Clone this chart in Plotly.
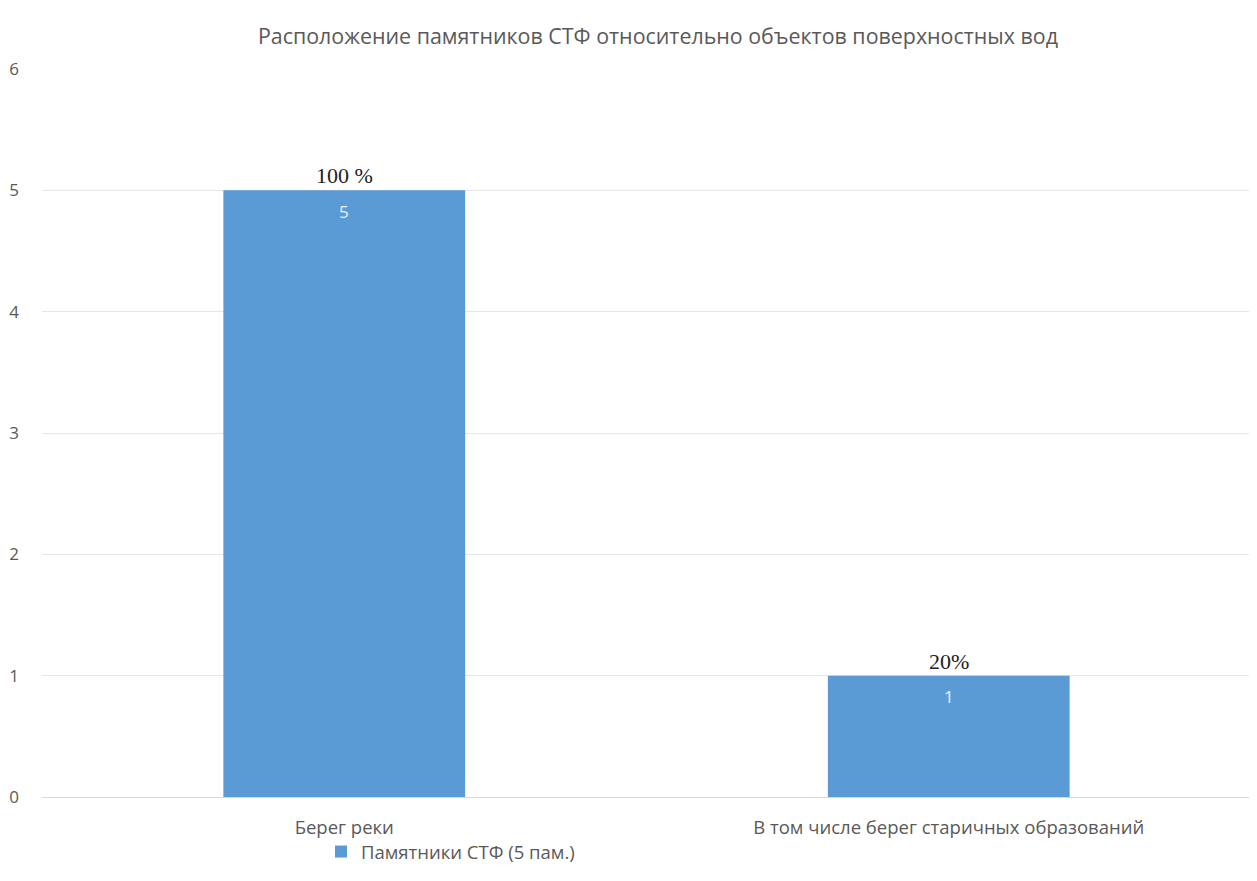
import plotly.graph_objects as go

categories = ["Берег реки", "В том числе берег старичных образований"]
values = [5, 1]
pct_labels = ["100 %", "20%"]
series_name = "Памятники СТФ (5 пам.)"
title = "Расположение памятников СТФ относительно объектов поверхностных вод"
y_ticks = [0, 1, 2, 3, 4, 5, 6]

fig = go.Figure()
fig.add_trace(go.Bar(
    x=categories, y=values, name=series_name,
    marker=dict(color="#5b9bd5", line=dict(width=0)),
    width=0.4,
    showlegend=True,
))
for c, v, p in zip(categories, values, pct_labels):
    fig.add_annotation(x=c, y=v, text=p, showarrow=False, yanchor="bottom", yshift=0,
                       font=dict(family="Liberation Serif", size=22, color="#222222"))
    fig.add_annotation(x=c, y=v, text=str(v), showarrow=False, yanchor="middle", yshift=-21,
                       font=dict(family="Open Sans", size=17, color="#e8f0fa"))

fig.update_layout(
    width=1249, height=873,
    margin=dict(l=34, r=6, t=61, b=84),
    paper_bgcolor="white", plot_bgcolor="white",
    title=dict(text=title, x=0.5204, xanchor="center", xref="container",
               y=0.9668, yanchor="middle", yref="container",
               font=dict(family="Open Sans", size=21.4, color="#595959")),
    font=dict(family="Open Sans", color="#595959"),
    bargap=0.6,
    xaxis=dict(showgrid=False, showline=True, linecolor="#d9d9d9",
               tickfont=dict(size=18.5, color="#595959"),
               ticks="", ticklabelstandoff=14, automargin=False),
    yaxis=dict(range=[0, 6], tickvals=y_ticks, showgrid=True, gridcolor="#e6e6e6", zeroline=False,
               tickfont=dict(size=17, color="#595959"), ticklabelstandoff=22, showline=False,
               automargin=False),
    legend=dict(orientation="h", x=0.2506, xanchor="left", xref="container",
                y=0.0332, yanchor="middle", yref="container",
                bgcolor="rgba(0,0,0,0)",
                font=dict(size=18.5, color="#595959")),
)
fig.write_html("out.html")
